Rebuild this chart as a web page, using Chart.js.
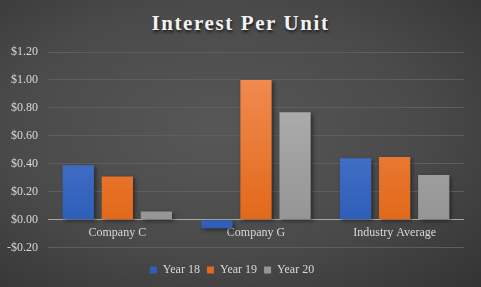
<!DOCTYPE html>
<html>
<head>
<meta charset="utf-8">
<script src="https://cdn.jsdelivr.net/npm/chart.js@4/dist/chart.umd.min.js"></script>
<style>
  html, body { margin: 0; padding: 0; }
  body {
    width: 481px; height: 287px; overflow: hidden;
    background: radial-gradient(ellipse at 45% 45%, #575757 0%, #4a4a4a 55%, #333333 100%);
  }
  #wrap { position: relative; width: 481px; height: 287px; }
  #title {
    position: absolute; left: 0; top: 11px; width: 481px; text-align: center;
    font-family: "Liberation Serif", serif; font-weight: bold; font-size: 21px;
    letter-spacing: 1.6px; color: #f2f2f2; text-shadow: 1px 2px 3px rgba(0,0,0,0.7);
  }
  canvas { position: absolute; left: 0; top: 0; }
</style>
</head>
<body>
<div id="wrap">
  <div id="title">Interest Per Unit</div>
  <canvas id="chart" width="481" height="287"></canvas>
</div>
<script>
// chart data
const categories = ["Company C", "Company G", "Industry Average"];
const seriesNames = ["Year 18", "Year 19", "Year 20"];
const year18 = [0.39, -0.06, 0.44];
const year19 = [0.31, 1.00, 0.45];
const year20 = [0.06, 0.77, 0.32];
const yTicks = [-0.2, 0, 0.2, 0.4, 0.6, 0.8, 1.0, 1.2];

const serif = "'Liberation Serif', 'Times New Roman', serif";

const colors = [
    ["#5b82d4", "#2f5fb9"],   // blue
    ["#f28c52", "#e2691a"],   // orange
    ["#b3b3b3", "#959595"]    // gray
];

function barFill(i) {
    return function (context) {
        const area = context.chart.chartArea;
        if (!area) return colors[i][1];
        const g = context.chart.ctx.createLinearGradient(0, area.top + 20, 0, area.bottom - 30);
        g.addColorStop(0, colors[i][0]);
        g.addColorStop(1, colors[i][1]);
        return g;
    };
}

const barShadow = {
    id: "barShadow",
    beforeDatasetsDraw(chart) {
        const ctx = chart.ctx;
        ctx.save();
        ctx.shadowColor = "rgba(0,0,0,0.45)";
        ctx.shadowBlur = 4;
        ctx.shadowOffsetX = 2;
        ctx.shadowOffsetY = 2;
    },
    afterDatasetsDraw(chart) {
        chart.ctx.restore();
    }
};

function drawChart() {
    const ctx = document.getElementById("chart").getContext("2d");

    new Chart(ctx, {
        type: "bar",
        data: {
            labels: categories,
            datasets: [year18, year19, year20].map((vals, i) => ({
                label: seriesNames[i],
                data: vals,
                backgroundColor: barFill(i),
                borderWidth: 0,
                categoryPercentage: 0.845,
                barPercentage: 0.8
            }))
        },
        options: {
            responsive: false,
            animation: false,
            layout: { padding: { top: 52, right: 17, bottom: 1, left: 0 } },
            plugins: {
                title: { display: false },
                tooltip: { enabled: false },
                legend: {
                    position: "bottom",
                    // empty title only used as a spacer above the legend items
                    title: { display: true, text: " ", font: { size: 1 }, padding: { top: 0, bottom: 8 } },
                    labels: {
                        color: "#d9d9d9",
                        boxWidth: 7,
                        boxHeight: 7,
                        padding: 7,
                        font: { family: serif, size: 12 },
                        generateLabels(chart) {
                            return chart.data.datasets.map((ds, i) => ({
                                text: ds.label,
                                fillStyle: colors[i][1],
                                strokeStyle: colors[i][1],
                                lineWidth: 0,
                                fontColor: "#d9d9d9",
                                datasetIndex: i
                            }));
                        }
                    }
                }
            },
            scales: {
                x: {
                    position: { y: 0 },
                    grid: { display: false },
                    border: { display: false },
                    ticks: {
                        color: "#d9d9d9",
                        padding: -2,
                        font: { family: serif, size: 12 }
                    }
                },
                y: {
                    min: -0.2,
                    max: 1.2,
                    afterBuildTicks(scale) {
                        scale.ticks = yTicks.map(v => ({ value: v }));
                    },
                    afterFit(scale) {
                        scale.width = 48;
                    },
                    border: { display: false },
                    grid: {
                        color: c => (c.tick && c.tick.value === 0 ? "#a6a6a6" : "#5e5e5e"),
                        lineWidth: 1,
                        drawTicks: false
                    },
                    ticks: {
                        color: "#d9d9d9",
                        padding: 10,
                        font: { family: serif, size: 12 },
                        callback: v => (v < 0 ? "-$" : "$") + Math.abs(v).toFixed(2)
                    }
                }
            }
        },
        plugins: [barShadow]
    });
}

// canvas text only uses a font once it is loaded
document.fonts.load("12px 'Liberation Serif'").then(drawChart, drawChart);
</script>
</body>
</html>
